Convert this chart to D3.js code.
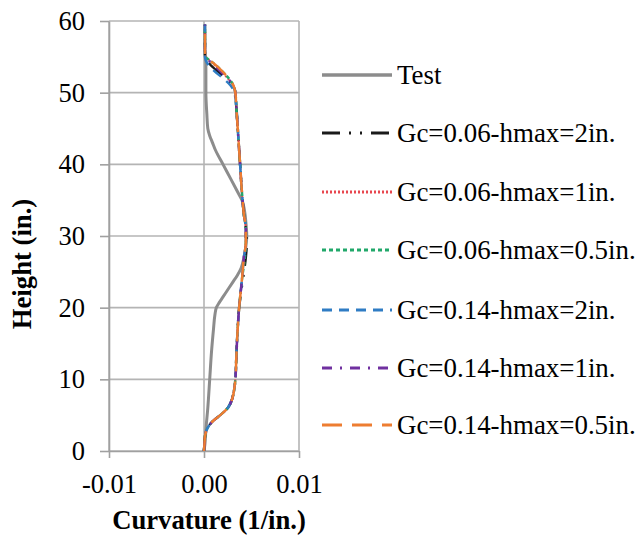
<!DOCTYPE html>
<html>
<head>
<meta charset="utf-8">
<script src="https://cdn.jsdelivr.net/npm/d3@7"></script>
<style>
  body { margin: 0; background: #fff; }
  text { font-family: "Liberation Serif", "Times New Roman", serif; fill: #000; }
  .title { font-size: 26.7px; font-weight: bold; }
  .legend { font-size: 26.9px; }
</style>
</head>
<body>
<svg width="636" height="538"></svg>
<script>
var xTicks = [-0.01, 0.00, 0.01];
var yTicks = [0, 10, 20, 30, 40, 50, 60];

// test curve
var testHeight = [0, 1, 3, 6, 10, 14, 17, 19, 20, 20.7, 21.5, 22.5, 23.5, 24.5, 25.5, 27, 28.5, 30, 32, 34, 35, 36, 38, 40, 42, 43, 44, 45, 47, 50, 54, 56, 58.5];
var testCurv = [0, 0.0001, 0.0002, 0.0004, 0.0006, 0.0008, 0.001, 0.00115, 0.0013, 0.0016, 0.0020, 0.0025, 0.0030, 0.0035, 0.0039, 0.0042, 0.0044, 0.0045, 0.0044, 0.0042, 0.0040, 0.0036, 0.0028, 0.0020, 0.0012, 0.0009, 0.0006, 0.0004, 0.0003, 0.0002, 0.0002, 0.0001, 0.0001];

// model curves share heights
var modelHeight = [0, 1, 2, 3, 4, 5, 6, 7, 8, 10, 13, 16, 20, 24, 27, 29, 31, 33, 36, 40, 44, 48, 50, 51, 52, 53, 54, 54.5, 55, 56, 58, 59.5];
var gc006h2 = [0, 0.00005, 0.0001, 0.0003, 0.0008, 0.0017, 0.0025, 0.0029, 0.0031, 0.0033, 0.0034, 0.0035, 0.0037, 0.0041, 0.0044, 0.0045, 0.0044, 0.0042, 0.0040, 0.0038, 0.0036, 0.0034, 0.0033, 0.0030, 0.0023, 0.0014, 0.0006, 0.0003, 0.0001, 0.0001, 0.0001, 0.0001];
var gc006h1 = [0, 0.00005, 0.0001, 0.0003, 0.0008, 0.0017, 0.0025, 0.0029, 0.0031, 0.0033, 0.0034, 0.0035, 0.0037, 0.0040, 0.0042, 0.0044, 0.0044, 0.0042, 0.0040, 0.0038, 0.0036, 0.0034, 0.0033, 0.0031, 0.0025, 0.0018, 0.0010, 0.0006, 0.0002, 0.0001, 0.0001, 0.0001];
var gc006h05 = [0, 0.00005, 0.0001, 0.0003, 0.0008, 0.0017, 0.0025, 0.0029, 0.0031, 0.0033, 0.0034, 0.0035, 0.0037, 0.0040, 0.0043, 0.0044, 0.0044, 0.0042, 0.0040, 0.0038, 0.0036, 0.0034, 0.0033, 0.0031, 0.0026, 0.0019, 0.0011, 0.0006, 0.0002, 0.0001, 0.0001, 0.0001];
var gc014h2 = [0, 0.00005, 0.0001, 0.0003, 0.0008, 0.0017, 0.0025, 0.0029, 0.0031, 0.0033, 0.0034, 0.0035, 0.0037, 0.0040, 0.0042, 0.0044, 0.0044, 0.0042, 0.0040, 0.0038, 0.0036, 0.0034, 0.0032, 0.0028, 0.0020, 0.0011, 0.0004, 0.0002, 0.0001, 0.0001, 0.0001, 0.0001];
var gc014h1 = [0, 0.00005, 0.0001, 0.0003, 0.0008, 0.0017, 0.0025, 0.0029, 0.0031, 0.0033, 0.0034, 0.0035, 0.0037, 0.0040, 0.0042, 0.0044, 0.0044, 0.0042, 0.0040, 0.0038, 0.0036, 0.0034, 0.0033, 0.0031, 0.0025, 0.0017, 0.0009, 0.0005, 0.0002, 0.0001, 0.0001, 0.0001];
var gc014h05 = [0, 0.00005, 0.0001, 0.0003, 0.0008, 0.0017, 0.0025, 0.0029, 0.0031, 0.0033, 0.0034, 0.0035, 0.0037, 0.0040, 0.0042, 0.0044, 0.0044, 0.0042, 0.0040, 0.0038, 0.0036, 0.0034, 0.0033, 0.0031, 0.0026, 0.0019, 0.0011, 0.0006, 0.0002, 0.0001, 0.0001, 0.0001];

var seriesNames = ["Test", "Gc=0.06-hmax=2in.", "Gc=0.06-hmax=1in.", "Gc=0.06-hmax=0.5in.", "Gc=0.14-hmax=2in.", "Gc=0.14-hmax=1in.", "Gc=0.14-hmax=0.5in."];
var seriesValues = [testCurv, gc006h2, gc006h1, gc006h05, gc014h2, gc014h1, gc014h05];

var styles = [
  {color: "#8c8c8c", width: 3, dash: null},
  {color: "#1a1a1a", width: 2.5, dash: "18,9,2,9,2,9"},
  {color: "#e8474f", width: 2, dash: "2,2"},
  {color: "#21a86a", width: 2.5, dash: "4,3"},
  {color: "#2f7cc4", width: 2.5, dash: "10,7"},
  {color: "#7030a0", width: 2.5, dash: "10,8,2,8"},
  {color: "#ed7d31", width: 2.5, dash: "20,10"}
];

var svg = d3.select("svg");
var plotLeft = 109, plotRight = 299, plotTop = 21, plotBottom = 451;

var xScale = d3.scaleLinear().domain([-0.01, 0.01]).range([plotLeft, plotRight]);
var yScale = d3.scaleLinear().domain([0, 60]).range([plotBottom, plotTop]);

var grid = svg.append("g");
grid.selectAll(".hgrid")
  .data(yTicks)
  .enter().append("line")
  .attr("x1", plotLeft).attr("x2", plotRight)
  .attr("y1", d => yScale(d)).attr("y2", d => yScale(d))
  .style("stroke", "#b4b4b4").style("stroke-width", 1.6);
grid.selectAll(".vgrid")
  .data(xTicks)
  .enter().append("line")
  .attr("x1", d => xScale(d)).attr("x2", d => xScale(d))
  .attr("y1", plotTop).attr("y2", plotBottom)
  .style("stroke", "#b4b4b4").style("stroke-width", 1.6);

var fmt = d3.format(".2f");
svg.append("g")
  .attr("transform", "translate(" + plotLeft + ",0)")
  .call(d3.axisLeft(yScale).tickValues(yTicks).tickSize(9).tickSizeOuter(0).tickPadding(15));
svg.append("g")
  .attr("transform", "translate(0," + plotBottom + ")")
  .call(d3.axisBottom(xScale).tickValues(xTicks)
    .tickFormat(d => fmt(d).replace("\u2212", "-"))
    .tickSize(7).tickSizeOuter(0).tickPadding(16));
svg.selectAll(".domain, .tick line").style("stroke", "#a0a0a0").style("stroke-width", 1.6);
svg.selectAll(".tick text")
  .style("font-family", "Liberation Serif")
  .style("font-size", "26.5px")
  .style("fill", "#000");

var line = d3.line()
  .x(d => xScale(d[0]))
  .y(d => yScale(d[1]))
  .curve(d3.curveMonotoneY);

var plot = svg.append("g");
seriesValues.forEach(function(vals, i) {
  var hs = i == 0 ? testHeight : modelHeight;
  var pts = vals.map(function(v, j) { return [v, hs[j]]; });
  plot.append("path")
    .datum(pts)
    .attr("d", line)
    .style("fill", "none")
    .style("stroke", styles[i].color)
    .style("stroke-width", styles[i].width)
    .style("stroke-dasharray", styles[i].dash)
    .style("stroke-linejoin", "round");
});

// legend
var legendY = [75, 133, 192, 250, 310, 368, 425];
var legend = svg.append("g");
seriesNames.forEach(function(name, i) {
  legend.append("line")
    .attr("x1", 322).attr("x2", 392)
    .attr("y1", legendY[i]).attr("y2", legendY[i])
    .style("stroke", styles[i].color)
    .style("stroke-width", i == 0 ? 3.5 : 3)
    .style("stroke-dasharray", styles[i].dash);
  legend.append("text")
    .attr("class", "legend")
    .attr("x", 397)
    .attr("y", legendY[i])
    .attr("dy", "0.34em")
    .text(name);
});

svg.append("text")
  .attr("class", "title")
  .attr("x", 209)
  .attr("y", 529)
  .attr("text-anchor", "middle")
  .text("Curvature (1/in.)");

svg.append("text")
  .attr("class", "title")
  .attr("transform", "translate(31,264) rotate(-90)")
  .attr("text-anchor", "middle")
  .text("Height (in.)");
</script>
</body>
</html>
